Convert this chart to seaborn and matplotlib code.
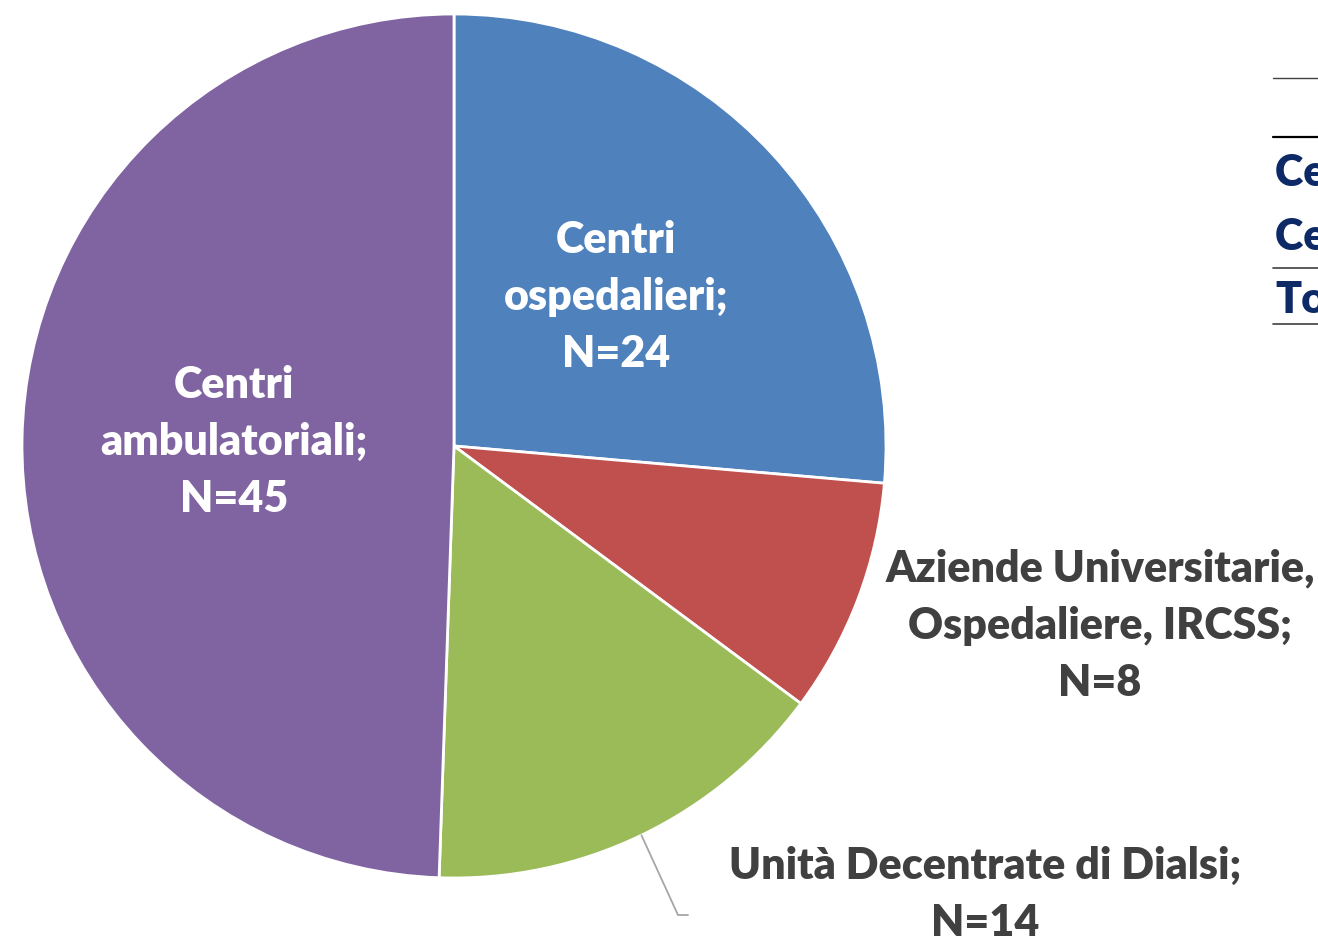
import numpy as np
import matplotlib
matplotlib.use("Agg")
import matplotlib.pyplot as plt
from matplotlib.lines import Line2D
import seaborn as sns

# ---- data ----
categories = ["Centri ospedalieri", "Aziende Universitarie, Ospedaliere, IRCSS",
              "Unità Decentrate di Dialsi", "Centri ambulatoriali"]
label_texts = ["Centri\nospedalieri;", "Aziende Universitarie,\nOspedaliere, IRCSS;",
               "Unità Decentrate di Dialsi;", "Centri\nambulatoriali;"]
counts = [24, 8, 14, 45]
colors_hex = ["#4F81BD", "#C0504D", "#9BBB59", "#8064A2"]
table_rows = ["Centri ospedalieri", "Centri ambulatoriali", "Totale"]

sns.set_theme(style="white")
plt.rcParams["font.family"] = ["Lato", "DejaVu Sans"]
palette = sns.color_palette(colors_hex)

W, H = 1318, 938
fig = plt.figure(figsize=(W / 100, H / 100), dpi=100)
ax = fig.add_axes([0, 0, 1, 1])

cx, cy, R = 454, 446, 432  # pixel geometry of the pie
wedges, _ = ax.pie(counts, colors=palette, startangle=90, counterclock=False,
                   wedgeprops=dict(edgecolor="white", linewidth=2))
ax.set_xlim(-cx / R, (W - cx) / R)
ax.set_ylim(-(H - cy) / R, cy / R)
ax.set_aspect("equal", adjustable="box")
ax.axis("off")

total = sum(counts)
cum = np.cumsum([0] + counts)
mid_angles = [90 - 360 * (cum[i] + counts[i] / 2) / total for i in range(len(counts))]

fs = 31
ls = 1.52
fw = "heavy"
text_dark = "#404040"
# inside labels
for i in (0, 3):
    a = np.deg2rad(mid_angles[i])
    ax.text(0.51 * np.cos(a), 0.51 * np.sin(a), f"{label_texts[i]}\nN={counts[i]}",
            ha="center", va="center", color="white", fontsize=fs, fontweight=fw,
            linespacing=ls)

# outside labels
ax.text((1100 - cx) / R, (cy - 626) / R, f"{label_texts[1]}\nN={counts[1]}",
        ha="center", va="center", color=text_dark, fontsize=fs, fontweight=fw,
        linespacing=ls)
ax.text((985 - cx) / R, (cy - 894) / R, f"{label_texts[2]}\nN={counts[2]}",
        ha="center", va="center", color=text_dark, fontsize=fs, fontweight=fw,
        linespacing=ls)

# leader line for Unità
a = np.deg2rad(mid_angles[2])
x0, y0 = 1.0 * np.cos(a), 1.0 * np.sin(a)
ax.plot([x0, (678 - cx) / R, (688 - cx) / R],
        [y0, (cy - 915) / R, (cy - 915) / R], color="#A6A6A6", lw=1.3,
        solid_joinstyle="miter")

# clipped table at the right edge
navy = "#0E2A66"
for yy, c, lw in [(78, "#404040", 1.0), (137, "#000000", 1.6), (268, "#404040", 1.2), (324, "#404040", 1.2)]:
    fig.add_artist(Line2D([1273 / W, 1], [1 - yy / H] * 2, transform=fig.transFigure,
                          color=c, lw=lw))
for yy, t in zip([173, 237, 300], table_rows):
    fig.text(1275 / W, 1 - yy / H, t, ha="left", va="center", color=navy,
             fontsize=fs, fontweight=fw)

fig.savefig("out.png", dpi=100)
